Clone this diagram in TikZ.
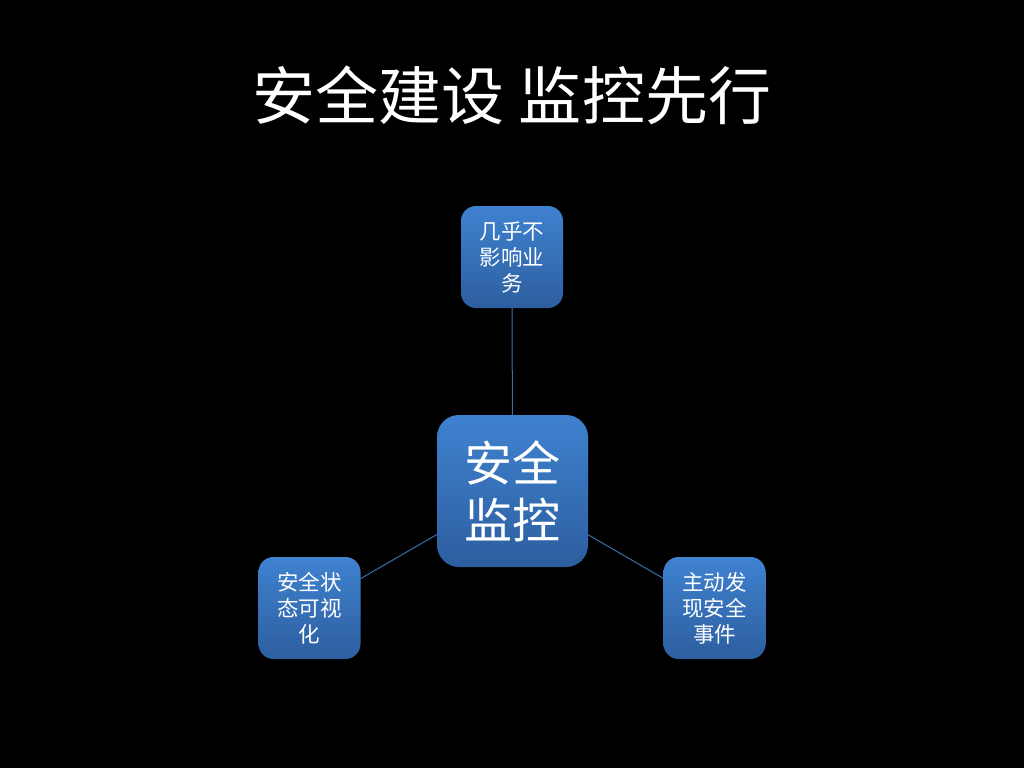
\documentclass[tikz,border=0pt]{standalone}
\usepackage{fontspec}
\newfontfamily\cjk{Noto Sans CJK SC}
\definecolor{boxtop}{HTML}{3F82D0}
\definecolor{boxbot}{HTML}{2D5E9F}
\definecolor{linkc}{HTML}{3A6EA8}
\tikzset{
  smallbox/.style={rectangle, rounded corners=15pt, minimum width=102pt, minimum height=102pt,
    top color=boxtop, bottom color=boxbot, draw=none, text=white, align=center,
    font=\cjk\fontsize{21.5}{26}\selectfont, inner sep=0pt},
  bigbox/.style={rectangle, rounded corners=22pt, minimum width=151pt, minimum height=152pt,
    top color=boxtop, bottom color=boxbot, draw=none, text=white, align=center,
    font=\cjk\fontsize{48}{57}\selectfont, inner sep=0pt},
  link/.style={draw=linkc, line width=1pt}
}
\begin{document}
\begin{tikzpicture}[x=1pt,y=-1pt]
\fill[black] (0,0) rectangle (1024,768);
\useasboundingbox (0,0) rectangle (1024,768);
\node[text=white, font=\cjk\fontsize{63}{70}\selectfont] (title) at (512,95) {安全建设 监控先行};
\node[bigbox] (c) at (512.5,491) {安全\\监控};
\node[smallbox] (t) at (512,257) {几乎不\\影响业\\务};
\node[smallbox] (l) at (309.5,608) {安全状\\态可视\\化};
\node[smallbox] (r) at (714.5,608) {主动发\\现安全\\事件};
\draw[link] (t) -- (c);
\draw[link] (c) -- (l);
\draw[link] (c) -- (r);
\end{tikzpicture}
\end{document}
